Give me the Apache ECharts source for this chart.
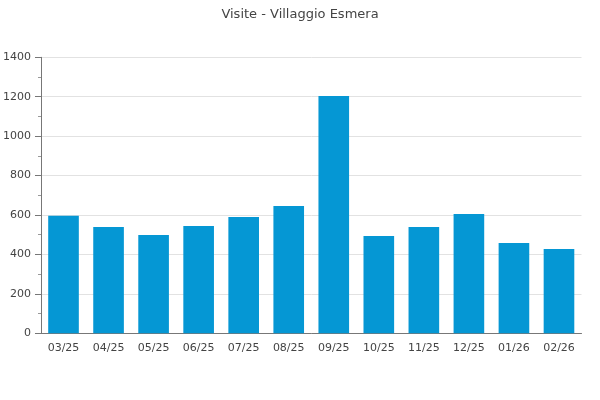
<!DOCTYPE html>
<html><head><meta charset="utf-8">
<script src="https://cdn.jsdelivr.net/npm/echarts@6/dist/echarts.min.js"></script>
<style>html,body{margin:0;padding:0;background:#fff}#c{width:600px;height:400px}</style>
</head><body><div id="c"></div>
<script>
const title = "Visite - Villaggio Esmera";
const categories = ["03/25","04/25","05/25","06/25","07/25","08/25","09/25","10/25","11/25","12/25","01/26","02/26"];
const visits = [596, 539, 499, 544, 590, 646, 1204, 494, 539, 605, 458, 428];

const chart = echarts.init(document.getElementById('c'), null, {renderer:'canvas'});
chart.setOption({
  animation:false,
  backgroundColor:'#fff',
  title:{text:title,left:'center',top:3,textStyle:{fontFamily:'DejaVu Sans',fontSize:13,fontWeight:'normal',color:'#444'}},
  grid:{left:40.5,right:18.5,top:57.3,bottom:66.7,containLabel:false},
  xAxis:{type:'category',data:categories,
    axisLine:{lineStyle:{color:'#777',width:1}},
    axisTick:{show:false},
    axisLabel:{fontFamily:'DejaVu Sans',fontSize:11,color:'#444',margin:9},
    splitLine:{show:false}},
  yAxis:{type:'value',min:0,max:1400,interval:200,
    axisLine:{show:true,lineStyle:{color:'#777',width:1}},
    axisTick:{show:true,length:6,lineStyle:{color:'#777'}},
    minorTick:{show:true,splitNumber:2,length:3,lineStyle:{color:'#999'}},
    axisLabel:{fontFamily:'DejaVu Sans',fontSize:11,color:'#444',margin:10,formatter:function(v){return String(v);}},
    splitLine:{show:true,lineStyle:{color:'#e2e2e2',width:1}}},
  series:[{type:'bar',data:visits,barWidth:'68%',itemStyle:{color:'#0597d4'}}]
});
</script></body></html>
